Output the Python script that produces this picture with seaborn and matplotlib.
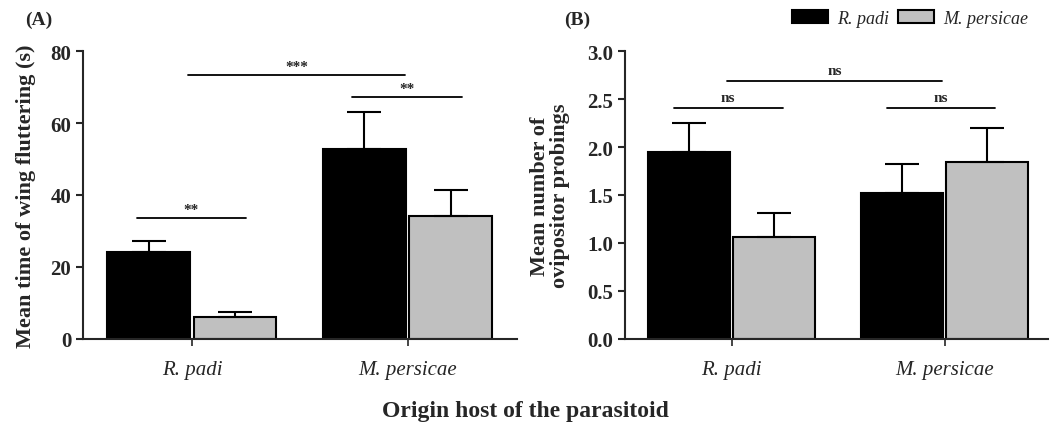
import pandas as pd
import matplotlib
matplotlib.use("Agg")
import matplotlib.pyplot as plt
import seaborn as sns

# origin host of the parasitoid (x groups) and aphid offered (hue)
origin = ["R. padi", "R. padi", "M. persicae", "M. persicae"]
offered = ["R. padi", "M. persicae", "R. padi", "M. persicae"]

# (A) wing fluttering time, mean and SE
flutter_mean = [24.2, 6.1, 52.8, 34.2]
flutter_se = [3.1, 1.4, 10.3, 7.3]

# (B) number of ovipositor probings, mean and SE
probe_mean = [1.95, 1.06, 1.52, 1.84]
probe_se = [0.30, 0.25, 0.30, 0.36]

host_order = ["R. padi", "M. persicae"]
colors = {"R. padi": "#000000", "M. persicae": "#C0C0C0"}

sns.set_style("ticks")
plt.rcParams['font.family'] = ['Liberation Serif', 'DejaVu Serif']
plt.rcParams['font.weight'] = 'bold'

df = pd.DataFrame({
    'origin': origin,
    'offered': offered,
    'flutter': flutter_mean,
    'flutter_se': flutter_se,
    'probe': probe_mean,
    'probe_se': probe_se,
})

fig = plt.figure(figsize=(10.5, 4.27), dpi=100)
axA = fig.add_axes([0.079, 0.204, 0.413, 0.674])
axB = fig.add_axes([0.595, 0.204, 0.403, 0.674])


def draw_panel(ax, col, se_col):
    sns.barplot(data=df, x='origin', y=col, hue='offered', order=host_order,
                hue_order=host_order, palette=colors, errorbar=None,
                width=0.8, gap=0.04, edgecolor='black', linewidth=1.5,
                ax=ax)
    # upper-only error bars at bar centres
    for i, h in enumerate(host_order):
        sub = df[df['offered'] == h].set_index('origin').loc[host_order]
        cont = ax.containers[i]
        xs = [p.get_x() + p.get_width() / 2 for p in cont]
        ax.errorbar(xs, sub[col].values,
                    yerr=[[0] * len(xs), sub[se_col].values],
                    fmt='none', ecolor='black', elinewidth=1.5,
                    capsize=12, capthick=1.5, zorder=1)
    if ax.get_legend() is not None:
        ax.get_legend().remove()
    sns.despine(ax=ax)
    for s in ['left', 'bottom']:
        ax.spines[s].set_linewidth(1.5)
    ax.tick_params(axis='y', labelsize=15, width=1.5, length=5)
    ax.tick_params(axis='x', labelsize=15, width=1.2, length=5, pad=10)
    for lab in ax.get_yticklabels():
        lab.set_fontweight('bold')
    for lab in ax.get_xticklabels():
        lab.set_fontstyle('italic')
        lab.set_fontweight('normal')
    ax.set_xlabel('')


def bracket(ax, x1, x2, y, text, dy):
    ax.plot([x1, x2], [y, y], color='black', lw=1.3)
    ax.text((x1 + x2) / 2, y + dy, text, ha='center', va='bottom',
            fontsize=11, fontweight='bold')


draw_panel(axA, 'flutter', 'flutter_se')
axA.set_ylim(0, 80)
axA.set_yticks([0, 20, 40, 60, 80])
axA.set_xlim(-0.505, 1.505)
axA.set_ylabel('Mean time of wing fluttering (s)', fontsize=16,
               fontweight='bold', labelpad=10)
bracket(axA, -0.02, 0.99, 73.4, '***', 0.5)
bracket(axA, 0.74, 1.25, 67.3, '**', 0.5)
bracket(axA, -0.255, 0.25, 33.6, '**', 0.5)

draw_panel(axB, 'probe', 'probe_se')
axB.set_ylim(0, 3.0)
axB.set_yticks([0.0, 0.5, 1.0, 1.5, 2.0, 2.5, 3.0])
axB.set_yticklabels(['0.0', '0.5', '1.0', '1.5', '2.0', '2.5', '3.0'])
axB.set_xlim(-0.502, 1.485)
axB.set_ylabel('Mean number of\novipositor probings', fontsize=16,
               fontweight='bold', labelpad=12, linespacing=1.0)
bracket(axB, -0.02, 0.986, 2.69, 'ns', 0.04)
bracket(axB, -0.272, 0.239, 2.41, 'ns', 0.04)
bracket(axB, 0.728, 1.235, 2.41, 'ns', 0.04)

fig.text(0.024, 0.953, '(A)', fontsize=14, fontweight='bold', va='center')
fig.text(0.537, 0.953, '(B)', fontsize=14, fontweight='bold', va='center')
fig.text(0.5, 0.037, 'Origin host of the parasitoid', fontsize=17,
         fontweight='bold', ha='center', va='center')

handles = [axB.containers[0][0], axB.containers[1][0]]
leg = fig.legend(handles, host_order, loc='center', bbox_to_anchor=(0.867, 0.955),
                 ncol=2, frameon=False, handlelength=2.0, handleheight=0.75,
                 columnspacing=0.5, handletextpad=0.5,
                 prop={'style': 'italic', 'weight': 'normal', 'size': 13})

fig.savefig('out.png', dpi=100)
